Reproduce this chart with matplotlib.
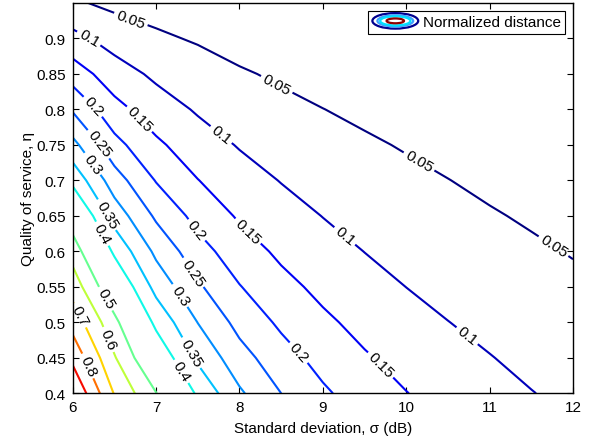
import numpy as np
import matplotlib
matplotlib.use("Agg")
import matplotlib.pyplot as plt
from matplotlib.patches import Ellipse, Rectangle
from matplotlib.legend_handler import HandlerBase
from matplotlib.ticker import FuncFormatter

plt.rcParams['font.family'] = ['Liberation Sans', 'DejaVu Sans']
plt.rcParams['font.size'] = 11

# grid
sigma = [6, 6.5, 7, 7.5, 8, 8.5, 9, 9.5, 10, 10.5, 11, 11.5, 12]
eta = [0.40, 0.45, 0.50, 0.55, 0.60, 0.65, 0.70, 0.75, 0.80, 0.85, 0.90, 0.95]
dist = [
    [1.000, 0.693, 0.503, 0.391, 0.307, 0.250, 0.207, 0.174, 0.151, 0.1306, 0.1144, 0.101, 0.0875],
    [0.873, 0.608, 0.441, 0.340, 0.268, 0.219, 0.181, 0.154, 0.132, 0.1145, 0.1012, 0.0869, 0.0755],
    [0.759, 0.526, 0.387, 0.299, 0.233, 0.190, 0.158, 0.1336, 0.1146, 0.1005, 0.0862, 0.0744, 0.065],
    [0.655, 0.454, 0.333, 0.257, 0.202, 0.163, 0.136, 0.115, 0.0996, 0.0847, 0.0731, 0.0637, 0.0561],
    [0.556, 0.390, 0.288, 0.218, 0.171, 0.139, 0.116, 0.0992, 0.0829, 0.0713, 0.062, 0.0545, 0.0484],
    [0.467, 0.328, 0.241, 0.182, 0.143, 0.117, 0.0987, 0.0811, 0.069, 0.060, 0.0525, 0.0467, 0.0415],
    [0.386, 0.272, 0.197, 0.151, 0.118, 0.0975, 0.0789, 0.0664, 0.0574, 0.0505, 0.0445, 0.0399, 0.0354],
    [0.314, 0.215, 0.158, 0.120, 0.0955, 0.0758, 0.0630, 0.0544, 0.0477, 0.0422, 0.0374, 0.0336, 0.0299],
    [0.244, 0.165, 0.121, 0.0932, 0.0715, 0.059, 0.0504, 0.0441, 0.039, 0.0349, 0.0311, 0.0281, 0.0249],
    [0.175, 0.120, 0.0878, 0.0657, 0.0536, 0.0455, 0.0397, 0.035, 0.0312, 0.0282, 0.0252, 0.023, 0.0206],
    [0.113, 0.0758, 0.0551, 0.0471, 0.039, 0.0334, 0.030, 0.0269, 0.0245, 0.0223, 0.020, 0.0183, 0.0163],
    [0.055, 0.0426, 0.0393, 0.0307, 0.027, 0.0234, 0.0218, 0.0197, 0.0185, 0.0173, 0.0155, 0.0142, 0.0127],
]
levels = [0.05, 0.1, 0.15, 0.2, 0.25, 0.3, 0.35, 0.4, 0.5, 0.6, 0.7, 0.8, 0.9]

# where the inline labels sit (sigma, eta)
label_pos = [(6.69, 0.925), (8.45, 0.836), (10.17, 0.730), (11.77, 0.608),
             (6.18, 0.897), (7.77, 0.763), (9.25, 0.620), (10.75, 0.484),
             (6.78, 0.784), (8.09, 0.627), (9.85, 0.458),
             (6.21, 0.80), (7.45, 0.627), (8.67, 0.453),
             (6.29, 0.749), (7.39, 0.566),
             (6.21, 0.721), (7.25, 0.535),
             (6.36, 0.648), (7.39, 0.455),
             (6.29, 0.621), (7.29, 0.430),
             (6.39, 0.533), (6.39, 0.474), (6.04, 0.507), (6.15, 0.437)]


class ContourIcon(HandlerBase):
    def create_artists(self, legend, orig_handle, xdescent, ydescent,
                       width, height, fontsize, trans):
        cx = width / 2 - xdescent
        cy = height / 2 - ydescent
        arts = []
        for fw, fh, c in [(1.0, 1.45, '#00008f'), (0.78, 1.05, '#3f9fff'),
                          (0.66, 0.85, '#00e0ff'), (0.38, 0.45, '#8f0000')]:
            arts.append(Ellipse((cx, cy), width * fw, height * fh, fill=False,
                                edgecolor=c, lw=1.6, transform=trans))
        return arts


fig = plt.figure(figsize=(5.93, 4.39), dpi=100)
ax = fig.add_axes([0.1226, 0.1018, 0.8437, 0.8891])

# contour on a "level index" scale so the straight pieces between grid
# nodes follow the lines more evenly (0.45 is a helper step, not drawn)
steps = [0.0125, 0.025] + levels[:8] + [0.45] + levels[8:] + [1.0, 1.1]
idx = np.arange(len(steps))
S, E = np.meshgrid(sigma, eta)
T = np.interp(np.log(np.array(dist)), np.log(steps), idx)
draw = [steps.index(v) for v in levels]

norm = plt.Normalize(0.05, 1.0)
cols = [plt.cm.jet(norm(v)) for v in levels]
cs = ax.contour(S, E, T, levels=draw, colors=cols, linewidths=1.5)
ax.clabel(cs, fmt={i: '%g' % v for i, v in zip(draw, levels)}, manual=label_pos,
          inline=True, inline_spacing=3, fontsize=11, colors='k')

ax.set_xlim(6, 12)
ax.set_ylim(0.4, 0.95)
ax.set_xticks(range(6, 13))
ax.set_yticks(np.arange(0.4, 0.91, 0.05))
ax.yaxis.set_major_formatter(FuncFormatter(lambda v, p: '%g' % round(v, 2)))
ax.tick_params(direction='in', top=True, right=True, length=4.5, width=0.8,
               labelsize=11, pad=5)
for sp in ax.spines.values():
    sp.set_linewidth(1.0)

ax.set_xlabel('Standard deviation, σ (dB)', labelpad=5)
ax.set_ylabel('Quality of service, η', labelpad=1)

proxy = Rectangle((0, 0), 1, 1)
leg = ax.legend([proxy], ['Normalized distance'], loc='upper right',
                handler_map={proxy: ContourIcon()}, fancybox=False,
                handlelength=3.0, handletextpad=0.3, borderpad=0.3,
                borderaxespad=0.5, framealpha=1)
leg.get_frame().set_edgecolor('k')
leg.get_frame().set_linewidth(0.8)

fig.savefig('out.png', dpi=100)
